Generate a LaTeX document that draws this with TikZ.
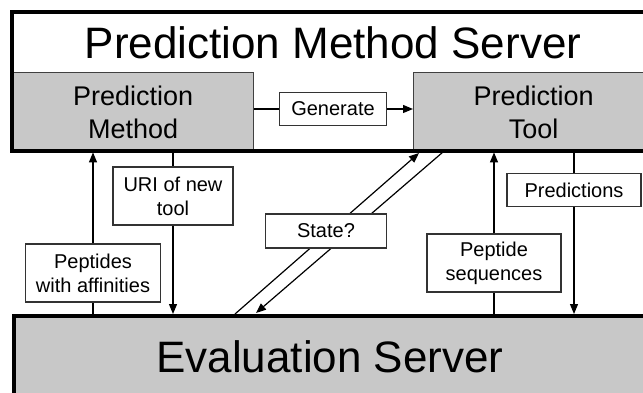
\documentclass[tikz,border=0pt]{standalone}
\usepackage{fontspec}
\setmainfont{Liberation Sans}
\usetikzlibrary{arrows.meta}
\definecolor{boxgray}{RGB}{200,200,200}
\tikzset{
  server/.style={draw=black, line width=3.5pt},
  compbox/.style={draw=black!75, line width=1.4pt, fill=boxgray, align=center, inner sep=0pt,
    anchor=north west, minimum height=79pt, font=\fontsize{27}{33}\selectfont},
  msgbox/.style={draw=black!80, line width=1.2pt, fill=white, align=center, inner sep=0pt,
    minimum height=33pt, font=\fontsize{20}{24}\selectfont},
  link/.style={line width=1.2pt},
  flow/.style={link, -{Triangle[length=10pt,width=8pt]}}
}
\begin{document}
\begin{tikzpicture}[x=1pt, y=-1pt]
    \useasboundingbox (0,0) rectangle (643,393);
    % Prediction method server
    \node [compbox, minimum width=241pt] (method) at (12,72) {Prediction\\Method};
    \node [compbox, minimum width=240pt] (tool) at (413,72) {Prediction\\Tool};
    \draw [server] (12,12) rectangle (680,151);
    \node [anchor=base, font=\fontsize{44}{50}\selectfont] (pmstitle) at (333,59) {Prediction Method Server};
    % Generate
    \node [msgbox, minimum width=107pt] (generate) at (333,109) {Generate};
    \draw [link] (generate.west -| method.east) -- (generate.west);
    \draw [flow] (generate.east) -- (generate.east -| tool.west);
    % Evaluation server
    \node [server, fill=boxgray, anchor=north west, minimum width=680pt, minimum height=110pt] (eval) at (12,314) {};
    \node [anchor=base, font=\fontsize{44}{50}\selectfont] (evaltitle) at (330,372) {Evaluation Server};
    % State requests
    \coordinate (upfoot) at (235,314);
    \coordinate (uptip) at (419,153);
    \coordinate (downtop) at (443,152);
    \coordinate (downtip) at (256,313);
    \draw [flow] (upfoot) -- (uptip);
    \draw [flow] (downtop) -- (downtip);
    \node [msgbox, minimum width=121pt, minimum height=34pt] (state) at (326,231) {State?};
    % Messages
    \node [msgbox, minimum width=135pt, minimum height=58pt] (affin) at (93,273) {Peptides\\with affinities};
    \node [msgbox, minimum width=120pt, minimum height=58pt] (uri) at (173,196) {URI of new\\tool};
    \node [msgbox, minimum width=134pt, minimum height=58pt] (pepseq) at (494,263) {Peptide\\sequences};
    \node [msgbox, minimum width=134pt] (predict) at (574,190) {Predictions};
    \draw [link] (eval.north -| affin) -- (affin);
    \draw [flow] (affin) -- (affin |- method.south);
    \draw [link] (method.south -| uri) -- (uri);
    \draw [flow] (uri) -- (uri |- eval.north);
    \draw [link] (eval.north -| pepseq) -- (pepseq);
    \draw [flow] (pepseq) -- (pepseq |- tool.south);
    \draw [link] (tool.south -| predict) -- (predict);
    \draw [flow] (predict) -- (predict |- eval.north);
\end{tikzpicture}
\end{document}
